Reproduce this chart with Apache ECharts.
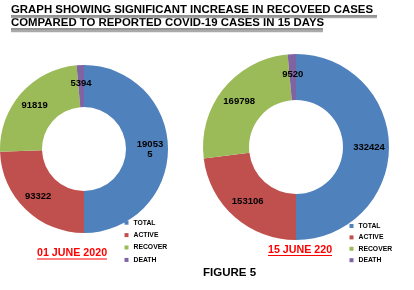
<!DOCTYPE html>
<html>
<head>
<meta charset="utf-8">
<script src="https://cdn.jsdelivr.net/npm/echarts@6/dist/echarts.min.js"></script>
<style>
  html, body { margin: 0; padding: 0; background: #fff; }
  #main { width: 414px; height: 290px; }
</style>
</head>
<body>
<div id="main"></div>
<script>
// data
var categories = ['TOTAL', 'ACTIVE', 'RECOVER', 'DEATH'];
var june01 = [190535, 93322, 91819, 5394];
var june15 = [332424, 153106, 169798, 9520];
var colors = ['#4F81BD', '#C0504D', '#9BBB59', '#8064A2'];

var FONT = 'Liberation Sans, Arial, sans-serif';

function pieData(vals) {
    return categories.map(function (c, i) {
        return { name: c, value: vals[i] };
    });
}

var labelStyle = {
    show: true,
    position: 'inside',
    formatter: '{c}',
    color: '#000',
    fontFamily: FONT,
    fontWeight: 'bold',
    fontSize: 9.5,
    lineHeight: 10
};

var legendBase = {
    orient: 'vertical',
    data: categories,
    icon: 'rect',
    padding: 0,
    itemWidth: 4,
    itemHeight: 4,
    textStyle: { fontFamily: FONT, fontWeight: 'bold', fontSize: 6.8, color: '#000', lineHeight: 8 }
};

option = {
    backgroundColor: '#fff',
    color: colors,
    animation: false,
    legend: [
        Object.assign({}, legendBase, { left: 124.5, top: 218.7, itemGap: 4.4 }),
        Object.assign({}, legendBase, { left: 349.5, top: 222, itemGap: 3.4 })
    ],
    series: [
        {
            name: '01 JUNE 2020',
            type: 'pie',
            center: [84, 149],
            radius: [42, 84],
            startAngle: 90,
            avoidLabelOverlap: false,
            label: Object.assign({}, labelStyle, { width: 28, overflow: 'breakAll' }),
            labelLine: { show: false },
            data: pieData(june01)
        },
        {
            name: '15 JUNE 220',
            type: 'pie',
            center: [296, 147],
            radius: [47, 93],
            startAngle: 90,
            avoidLabelOverlap: false,
            label: labelStyle,
            labelLine: { show: false },
            data: pieData(june15)
        }
    ],
    graphic: [
        // heading
        { type: 'text', left: 11, top: 4.5, style: { text: 'GRAPH SHOWING SIGNIFICANT INCREASE IN RECOVEED CASES', font: 'bold 11.4px ' + FONT, fill: '#000' } },
        { type: 'text', left: 11, top: 17, style: { text: 'COMPARED TO REPORTED COVID-19 CASES IN 15 DAYS', font: 'bold 11.4px ' + FONT, fill: '#000' } },
        { type: 'line', shape: { x1: 11, y1: 16, x2: 377, y2: 16 }, style: { stroke: '#222', lineWidth: 1 } },
        { type: 'line', shape: { x1: 11, y1: 17.5, x2: 377, y2: 17.5 }, style: { stroke: '#aaa', lineWidth: 1.5 } },
        { type: 'line', shape: { x1: 11, y1: 29, x2: 323, y2: 29 }, style: { stroke: '#222', lineWidth: 1 } },
        { type: 'line', shape: { x1: 11, y1: 31, x2: 323, y2: 31 }, style: { stroke: '#aaa', lineWidth: 2.5 } },
        // date captions
        { type: 'text', left: 37, top: 248, style: { text: '01 JUNE 2020', font: 'bold 10.7px ' + FONT, fill: '#f00' } },
        { type: 'line', shape: { x1: 37, y1: 259, x2: 107, y2: 259 }, style: { stroke: '#f00', lineWidth: 1 } },
        { type: 'text', left: 268, top: 244.5, style: { text: '15 JUNE 220', font: 'bold 10.7px ' + FONT, fill: '#f00' } },
        { type: 'line', shape: { x1: 268, y1: 255.5, x2: 332, y2: 255.5 }, style: { stroke: '#f00', lineWidth: 1 } },
        // figure caption
        { type: 'text', left: 203, top: 266.5, style: { text: 'FIGURE 5', font: 'bold 11.5px ' + FONT, fill: '#000' } }
    ]
};

var chart = echarts.init(document.getElementById('main'));
chart.setOption(option);
</script>
</body>
</html>
